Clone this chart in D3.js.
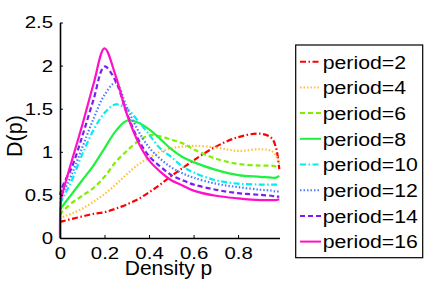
<!DOCTYPE html>
<html><head><meta charset="utf-8">
<script src="https://cdn.jsdelivr.net/npm/d3@7"></script>
<style>
html,body{margin:0;padding:0;background:#fff;}
svg{display:block;font-family:"Liberation Sans",Arial,sans-serif;}
</style></head>
<body><svg id="c" width="436" height="300"></svg>
<script>
const density = [0, 0.005, 0.02, 0.05, 0.1, 0.15, 0.2, 0.25, 0.3, 0.35, 0.4, 0.45, 0.5, 0.55, 0.6, 0.7, 0.8, 0.9, 0.95, 0.97, 0.985];
const period2  = [0.19,0.19,0.20,0.22,0.25,0.28,0.30,0.34,0.39,0.45,0.53,0.62,0.72,0.81,0.90,1.06,1.17,1.21,1.16,1.05,0.80];
const period4  = [0.22,0.23,0.25,0.28,0.34,0.42,0.51,0.62,0.74,0.85,0.93,1.00,1.04,1.06,1.07,1.05,1.01,1.03,1.01,0.96,0.86];
const period6  = [0.27,0.29,0.33,0.40,0.49,0.58,0.71,0.88,1.01,1.12,1.19,1.18,1.14,1.10,1.03,0.92,0.86,0.84,0.84,0.83,0.82];
const period8  = [0.33,0.35,0.40,0.50,0.67,0.84,1.04,1.24,1.36,1.34,1.26,1.15,1.03,0.94,0.88,0.79,0.73,0.71,0.70,0.70,0.72];
const period10 = [0.40,0.42,0.50,0.65,0.97,1.25,1.45,1.55,1.50,1.36,1.20,1.04,0.94,0.83,0.76,0.67,0.63,0.62,0.62,0.62,0.62];
const period12 = [0.45,0.48,0.56,0.72,1.05,1.38,1.66,1.80,1.52,1.25,1.05,0.92,0.82,0.75,0.70,0.63,0.59,0.56,0.55,0.54,0.54];
const period14 = [0.50,0.55,0.65,0.80,1.18,1.60,1.99,1.82,1.45,1.15,0.95,0.83,0.73,0.67,0.62,0.56,0.52,0.50,0.49,0.48,0.48];
const period16 = [0.00,0.45,0.60,0.87,1.31,1.78,2.20,1.88,1.44,1.12,0.90,0.77,0.67,0.61,0.55,0.49,0.46,0.44,0.44,0.44,0.45];
const seriesNames = ["period=2","period=4","period=6","period=8","period=10","period=12","period=14","period=16"];
const seriesValues = [period2,period4,period6,period8,period10,period12,period14,period16];
const xTicks = [0,0.2,0.4,0.6,0.8];
const yTicks = [0,0.5,1,1.5,2,2.5];

const colors = ["#ff0000","#ffc040","#80ee00","#20f040","#00eeee","#4f7cff","#7f1cf0","#ff10c8"];
const dashes = ["6,2.5,1.5,2.5","1.5,2","5,3",null,"6,2.5,1.5,2.5","1.5,2","5,3",null];

const svg = d3.select("#c");
const x = d3.scaleLinear().domain([0,0.986]).range([60,279.5]);
const y = d3.scaleLinear().domain([0,2.5]).range([238,22.5]);

const line = d3.line().x(d=>x(d[0])).y(d=>y(d[1])).curve(d3.curveCatmullRom.alpha(0.5));
const g = svg.append("g");
seriesValues.forEach((vals,i)=>{
  g.append("path").datum(density.map((d,j)=>[d,vals[j]]))
   .attr("d",line).attr("fill","none").attr("stroke",colors[i]).attr("stroke-width",2.2)
   .attr("stroke-dasharray",dashes[i]);
});

const tsx = 1.2;
const xa = svg.append("g").attr("transform",`translate(0,${y(0)})`)
  .call(d3.axisBottom(x).tickValues(xTicks).tickFormat(d3.format("")).tickSize(-3).tickSizeOuter(0).tickPadding(8.5));
const ya = svg.append("g").attr("transform",`translate(${x(0)},0)`)
  .call(d3.axisLeft(y).tickValues(yTicks).tickFormat(d3.format("")).tickSize(-3).tickSizeOuter(0).tickPadding(7));
[xa,ya].forEach(a=>{
  a.select(".domain").attr("stroke","#000").attr("stroke-width",1.6);
  a.selectAll(".tick line").attr("stroke","#000").attr("stroke-width",1);
  a.selectAll(".tick text").attr("fill","#000").attr("font-size",17).attr("font-family","Liberation Sans, Arial, sans-serif");
});
xa.selectAll(".tick text").attr("transform",`scale(${tsx},1)`);
ya.selectAll(".tick text").attr("x",-7/tsx).attr("transform",`scale(${tsx},1)`);

svg.append("text").attr("x",168.5).attr("y",274.5).attr("text-anchor","middle")
  .attr("font-size",21).text("Density p");
svg.append("text").attr("transform","translate(22,136) rotate(-90)").attr("text-anchor","middle")
  .attr("font-size",21.5).text("D(p)");

// legend
const lg = svg.append("g");
lg.append("rect").attr("x",295.7).attr("y",45).attr("width",127).attr("height",212.7)
  .attr("fill","#fff").attr("stroke","#000").attr("stroke-width",1.2);
seriesNames.forEach((name,i)=>{
  const cy = 61.7 + i*25.7;
  lg.append("line").attr("x1",300).attr("x2",321).attr("y1",cy).attr("y2",cy)
    .attr("stroke",colors[i]).attr("stroke-width",2).attr("stroke-dasharray",dashes[i]);
  lg.append("text").attr("transform",`translate(322.7,${cy+6.8}) scale(1.12,1)`)
    .attr("font-size",19).attr("fill","#000").text(name);
});
</script></body></html>
